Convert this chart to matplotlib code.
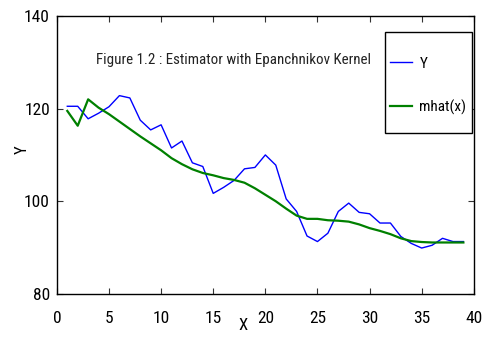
import matplotlib
matplotlib.use("Agg")
import matplotlib.pyplot as plt
from matplotlib import font_manager
from matplotlib.patches import Rectangle

# data
x = list(range(1, 40))
y_obs = [120.5, 120.5, 117.8, 119.0, 120.4, 122.8, 122.3, 117.5, 115.4, 116.5,
         111.5, 113.0, 108.3, 107.5, 101.7, 103.0, 104.5, 107.0, 107.3, 110.0,
         107.8, 100.5, 97.8, 92.5, 91.3, 93.1, 97.8, 99.6, 97.6, 97.3,
         95.3, 95.3, 92.4, 90.9, 89.9, 90.5, 92.0, 91.3, 91.3]
mhat = [119.5, 116.3, 122.0, 120.2, 118.8, 117.2, 115.6, 114.0, 112.5, 111.0,
        109.3, 108.0, 106.9, 106.1, 105.6, 105.0, 104.6, 104.0, 102.8, 101.4,
        100.0, 98.4, 96.9, 96.2, 96.2, 95.9, 95.8, 95.6, 95.0, 94.2,
        93.6, 92.9, 92.0, 91.4, 91.2, 91.1, 91.1, 91.1, 91.1]
xticks = [0, 5, 10, 15, 20, 25, 30, 35, 40]
yticks = [80, 100, 120, 140]

# narrow font if one is installed
names = {f.name for f in font_manager.fontManager.ttflist}
narrow = None
for cand in ["Liberation Sans Narrow", "Roboto Condensed", "Open Sans Condensed"]:
    if cand in names:
        narrow = cand
        break
if narrow:
    plt.rcParams["font.family"] = [narrow, "DejaVu Sans"]
else:
    plt.rcParams["font.family"] = ["DejaVu Sans"]
    plt.rcParams["font.stretch"] = "condensed"

fig = plt.figure(figsize=(4.82, 3.39), dpi=100)
ax = fig.add_axes([0.118, 0.133, 0.865, 0.82])

ax.plot(x, y_obs, color="#0000ff", linewidth=1.0, label="Y")
ax.plot(x, mhat, color="#008000", linewidth=1.6, label="mhat(x)")

ax.set_xlim(0, 40)
ax.set_ylim(80, 140)
ax.set_xticks(xticks)
ax.set_yticks(yticks)
ax.tick_params(direction="in", top=True, right=True, length=4, labelsize=12.5,
               color="#333333")
ax.tick_params(axis="x", pad=12)
ax.tick_params(axis="y", pad=5)
for s in ax.spines.values():
    s.set_linewidth(1.0)

ax.set_xlabel("X", fontsize=12)
ax.xaxis.set_label_coords(0.447, -0.085)
ax.set_ylabel("Y", fontsize=12)
ax.yaxis.set_label_coords(-0.065, 0.52)

ax.text(16.9, 130.5, "Figure 1.2 : Estimator with Epanchnikov Kernel",
        fontsize=10.8, ha="center", va="center", color="#222222")

# legend box drawn as in the original (tall box, entries spread out)
ax.add_patch(Rectangle((0.787, 0.579), 0.208, 0.363, transform=ax.transAxes,
                       facecolor="white", edgecolor="black", linewidth=1.0, zorder=4))
leg = ax.legend(loc="upper left", bbox_to_anchor=(0.80, 0.853), fontsize=11,
                frameon=False, handlelength=1.4, handletextpad=0.5,
                labelspacing=1.9, borderpad=0, borderaxespad=0)
leg.set_zorder(5)

fig.savefig("out.png", dpi=100)
